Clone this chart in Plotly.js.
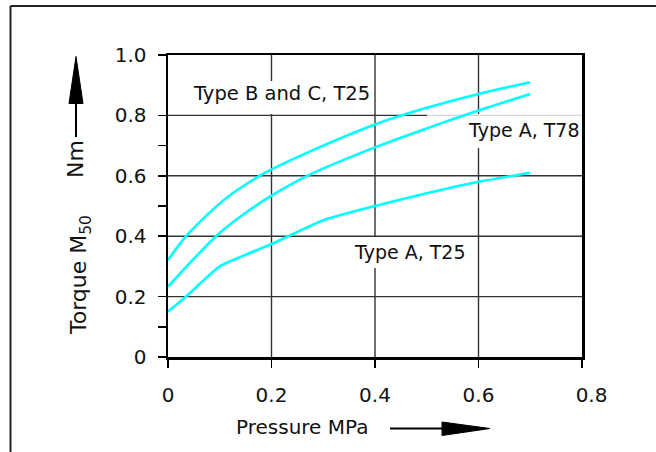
<!DOCTYPE html>
<html>
<head>
<meta charset="utf-8">
<script src="https://cdn.plot.ly/plotly-3.0.1.min.js"></script>
<style>
  html, body { margin: 0; padding: 0; background: #fff; }
  #chart { width: 656px; height: 452px; }
</style>
</head>
<body>
<div id="chart"></div>
<script>
// ---- data ----
const xTickVals = [0, 0.2, 0.4, 0.6, 0.8];
const xTickText = ["0", "0.2", "0.4", "0.6", "\u00a0\u00a0\u00a00.8"];
const yTickVals = [0, 0.2, 0.4, 0.6, 0.8, 1.0];
const yTickText = ["0", "0.2", "0.4", "0.6", "0.8", "1.0"];
const yMinorTicks = [0.1, 0.5, 0.7];

// Type B and C, T25 (top curve)
const pressureBC = [0, 0.035, 0.093, 0.125, 0.18, 0.2, 0.28, 0.4, 0.5, 0.6, 0.7];
const torqueBC   = [0.321, 0.40, 0.498, 0.542, 0.603, 0.621, 0.685, 0.770, 0.825, 0.871, 0.91];

// Type A, T78 (middle curve)
const pressureA78 = [0, 0.093, 0.144, 0.2, 0.273, 0.4, 0.5, 0.6, 0.7];
const torqueA78   = [0.233, 0.40, 0.47, 0.534, 0.603, 0.694, 0.757, 0.816, 0.871];

// Type A, T25 (bottom curve)
const pressureA25 = [0, 0.035, 0.1, 0.2, 0.3, 0.4, 0.5, 0.6, 0.7];
const torqueA25   = [0.15, 0.20, 0.30, 0.374, 0.453, 0.50, 0.542, 0.58, 0.61];

const curveLabels = ["Type B and C, T25", "Type A, T78", "Type A, T25"];

// ---- styling ----
const FONT = "DejaVu Sans, sans-serif";
const CYAN = "#00ffff";
const INK = "#111111";
const GRID = "#333333";

const lineStyle = { color: CYAN, width: 2.6, shape: "spline", smoothing: 0.9 };

const traces = [
  { x: pressureBC, y: torqueBC, mode: "lines", line: lineStyle, hoverinfo: "skip", showlegend: false },
  { x: pressureA78, y: torqueA78, mode: "lines", line: lineStyle, hoverinfo: "skip", showlegend: false },
  { x: pressureA25, y: torqueA25, mode: "lines", line: Object.assign({}, lineStyle, { smoothing: 0.45 }),
    hoverinfo: "skip", showlegend: false }
];

// pixel helpers for decoration placement (plot area 168..582 x 55..357)
const L = 168, R = 74, T = 55, B = 95, W = 656, H = 452;
const PW = W - L - R, PH = H - T - B;
const px = v => (v - L) / PW;          // pixel x -> paper x
const py = v => (H - B - v) / PH;      // pixel y -> paper y
const dx = v => (v - L) / PW * 0.8;    // pixel x -> data x
const dy = v => (H - B - v) / PH * 1.0;// pixel y -> data y

// gaps in the grid behind the curve labels
const vGaps = { "0.2": [dy(114), dy(81)], "0.4": [dy(268), dy(237)], "0.6": [dy(148), dy(114)] };

const shapes = [];
const gridLine = { color: GRID, width: 1.4 };
// vertical gridlines (inner x ticks)
xTickVals.filter(v => v > 0 && v < 0.8).forEach(v => {
  const gap = vGaps[v.toFixed(1)];
  const segs = gap ? [[0, gap[0]], [gap[1], 1.0]] : [[0, 1.0]];
  segs.forEach(s => shapes.push({ type: "line", xref: "x", yref: "y", layer: "below",
    x0: v, x1: v, y0: s[0], y1: s[1], line: gridLine }));
});
// horizontal gridlines (inner y ticks)
yTickVals.filter(v => v > 0 && v < 1.0).forEach(v => {
  if (v === 0.8) {
    shapes.push({ type: "line", xref: "x", yref: "y", layer: "below", x0: 0, x1: dx(427), y0: v, y1: v, line: gridLine });
    shapes.push({ type: "line", xref: "x", yref: "y", layer: "below", x0: dx(427), x1: 0.8, y0: v, y1: v,
      line: { color: "#d6d6d6", width: 1.3 } });
  } else {
    shapes.push({ type: "line", xref: "x", yref: "y", layer: "below", x0: 0, x1: 0.8, y0: v, y1: v, line: gridLine });
  }
});

shapes.push(
  // outer frame (top and left edges)
  { type: "line", xref: "paper", yref: "paper", x0: px(10.5), x1: px(660), y0: py(6), y1: py(6),
    line: { color: "#222", width: 2 } },
  { type: "line", xref: "paper", yref: "paper", x0: px(10.5), x1: px(10.5), y0: py(6), y1: py(460),
    line: { color: "#222", width: 2 } },
  // x-title arrow
  { type: "line", xref: "paper", yref: "paper", x0: px(390), x1: px(446), y0: py(428.5), y1: py(428.5),
    line: { color: "#000", width: 2 } },
  { type: "path", xref: "paper", yref: "paper",
    path: `M ${px(442)} ${py(422)} L ${px(490)} ${py(428.5)} L ${px(442)} ${py(435.5)} Z`,
    fillcolor: "#000", line: { color: "#000", width: 1 } },
  // y-title arrow
  { type: "line", xref: "paper", yref: "paper", x0: px(76), x1: px(76), y0: py(137), y1: py(100),
    line: { color: "#000", width: 2 } },
  { type: "path", xref: "paper", yref: "paper",
    path: `M ${px(69)} ${py(103.5)} L ${px(76)} ${py(56.5)} L ${px(83)} ${py(103.5)} Z`,
    fillcolor: "#000", line: { color: "#000", width: 1 } }
);

const annotations = [
  { text: curveLabels[0], xref: "x", yref: "y", x: dx(281), y: dy(93.5), showarrow: false,
    xanchor: "center", yanchor: "middle", font: { family: FONT, size: 19.5, color: INK } },
  { text: curveLabels[1], xref: "x", yref: "y", x: dx(523.5), y: dy(130), showarrow: false,
    xanchor: "center", yanchor: "middle", font: { family: FONT, size: 19, color: INK } },
  { text: curveLabels[2], xref: "x", yref: "y", x: dx(409.5), y: dy(251.5), showarrow: false,
    xanchor: "center", yanchor: "middle", font: { family: FONT, size: 19, color: INK } },
  // axis titles
  { text: "Pressure MPa", xref: "paper", yref: "paper", x: px(302), y: py(427), showarrow: false,
    xanchor: "center", yanchor: "middle", font: { family: FONT, size: 20, color: INK } },
  { text: "Torque M<sub>50</sub>", xref: "paper", yref: "paper", x: px(80), y: py(275), showarrow: false,
    textangle: -90, xanchor: "center", yanchor: "middle", font: { family: FONT, size: 22, color: INK } },
  { text: "Nm", xref: "paper", yref: "paper", x: px(75), y: py(159), showarrow: false,
    textangle: -90, xanchor: "center", yanchor: "middle", font: { family: FONT, size: 22, color: INK } }
];

const layout = {
  width: W, height: H, autosize: false,
  margin: { l: L, r: R, t: T, b: B, pad: 0 },
  paper_bgcolor: "#ffffff", plot_bgcolor: "#ffffff",
  font: { family: FONT, size: 20, color: INK },
  showlegend: false,
  xaxis: {
    range: [0, 0.8], tickvals: xTickVals, ticktext: xTickText,
    showgrid: false, zeroline: false,
    showline: true, linecolor: "#000", linewidth: 2.5, mirror: true,
    ticks: "outside", ticklen: 8, tickwidth: 1.5, tickcolor: "#000",
    ticklabelstandoff: 10,
    tickfont: { family: FONT, size: 20, color: INK }, fixedrange: true
  },
  yaxis: {
    range: [0, 1.0], tickvals: yTickVals, ticktext: yTickText,
    showgrid: false, zeroline: false,
    showline: true, linecolor: "#000", linewidth: 2.5, mirror: true,
    ticks: "outside", ticklen: 8, tickwidth: 1.5, tickcolor: "#000",
    ticklabelstandoff: 7,
    minor: { tickmode: "array", tickvals: yMinorTicks, ticks: "outside", ticklen: 8,
             tickwidth: 1.5, tickcolor: "#000", showgrid: false },
    tickfont: { family: FONT, size: 20, color: INK }, fixedrange: true
  },
  shapes: shapes,
  annotations: annotations
};

Plotly.newPlot("chart", traces, layout, { staticPlot: true, displayModeBar: false });
</script>
</body>
</html>
